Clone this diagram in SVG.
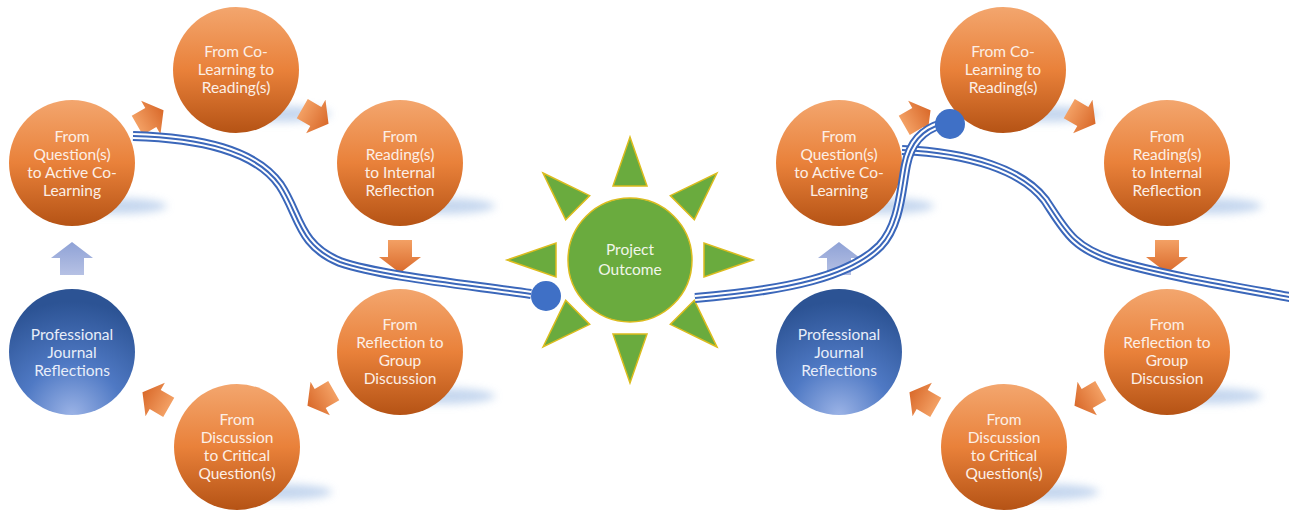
<svg xmlns="http://www.w3.org/2000/svg" xmlns:xlink="http://www.w3.org/1999/xlink" width="1289" height="511" viewBox="0 0 1289 511">
<defs>
<linearGradient id="og" x1="0" y1="0" x2="0" y2="1">
<stop offset="0" stop-color="#f3a66e"/>
<stop offset="0.5" stop-color="#e9813a"/>
<stop offset="1" stop-color="#b55315"/>
</linearGradient>
<radialGradient id="bg" cx="0.5" cy="1" r="0.9">
<stop offset="0" stop-color="#9bb3e6"/>
<stop offset="0.45" stop-color="#4f79c4"/>
<stop offset="1" stop-color="#2c5394"/>
</radialGradient>
<linearGradient id="ag" x1="0" y1="0" x2="1" y2="0">
<stop offset="0" stop-color="#f3a064"/>
<stop offset="1" stop-color="#d9692a"/>
</linearGradient>
<linearGradient id="ug" x1="0" y1="0" x2="1" y2="0">
<stop offset="0" stop-color="#b6c1e4"/>
<stop offset="1" stop-color="#8fa2d6"/>
</linearGradient>
<filter id="blur" x="-50%" y="-100%" width="200%" height="300%"><feGaussianBlur stdDeviation="4"/></filter>
<path id="arr" d="M-16,-12 H1 V-21 L17,0 L1,21 V12 H-16 Z"/>
<path id="tri" d="M0,-123 L17,-74 L-17,-74 Z"/>
<path id="waveL" d="M133,136 C200,138 255,150 280,185 C300,215 298,245 340,262 C380,276 470,285 531,294"/>
<path id="waveR" d="M902,150 C970,153 1022,170 1045,200 C1065,230 1072,247 1112,260 C1160,275 1240,288 1295,298"/>
<path id="waveX" d="M695,298 C790,290 850,276 880,246 C900,225 901,190 906,165 C910,145 920,130 942,124"/>
</defs>
<style>
.sh{fill:#bcd0ec;filter:url(#blur);opacity:0.85}
.on{fill:url(#og)}
.bn{fill:url(#bg)}
.t{font-family:Lato,"Liberation Sans",sans-serif;font-size:15.5px;fill:#fcefe6;text-anchor:middle}
.tb{fill:#e8eef9}
.ar{fill:url(#ag)}
.ua{fill:url(#ug)}
.w1{fill:none;stroke:#3b67ba;stroke-width:10}
.w2{fill:none;stroke:#ffffff;stroke-width:6}
.w3{fill:none;stroke:#3b67ba;stroke-width:2}
.dot{fill:#3f70c6}
.sun{fill:#6aab3e;stroke:#dcbc1e;stroke-width:1.5}
.ts{font-family:Lato,"Liberation Sans",sans-serif;font-size:15.5px;fill:#f1f6ea;text-anchor:middle}
</style>

<rect width="1289" height="511" fill="#ffffff"/>

<g id="shadows">
<ellipse class="sh" cx="112" cy="206" rx="55" ry="8"/>
<ellipse class="sh" cx="276" cy="114" rx="55" ry="8"/>
<ellipse class="sh" cx="440" cy="206" rx="55" ry="8"/>
<ellipse class="sh" cx="440" cy="396" rx="55" ry="8"/>
<ellipse class="sh" cx="277" cy="492" rx="55" ry="8"/>
<ellipse class="sh" cx="879" cy="206" rx="55" ry="8"/>
<ellipse class="sh" cx="1043" cy="114" rx="55" ry="8"/>
<ellipse class="sh" cx="1207" cy="206" rx="55" ry="8"/>
<ellipse class="sh" cx="1207" cy="396" rx="55" ry="8"/>
<ellipse class="sh" cx="1044" cy="492" rx="55" ry="8"/>
</g>

<!-- Left cycle -->
<g id="L-q1"><circle class="on" cx="72" cy="163" r="63"/>
<text class="t"><tspan x="72" y="142">From</tspan><tspan x="72" y="160">Question(s)</tspan><tspan x="72" y="178">to Active Co-</tspan><tspan x="72" y="196">Learning</tspan></text></g>
<g id="L-colearn"><circle class="on" cx="236" cy="70" r="63"/>
<text class="t"><tspan x="236" y="57">From Co-</tspan><tspan x="236" y="75">Learning to</tspan><tspan x="236" y="93">Reading(s)</tspan></text></g>
<g id="L-reading"><circle class="on" cx="400" cy="163" r="63"/>
<text class="t"><tspan x="400" y="142">From</tspan><tspan x="400" y="160">Reading(s)</tspan><tspan x="400" y="178">to Internal</tspan><tspan x="400" y="196">Reflection</tspan></text></g>
<g id="L-reflection"><circle class="on" cx="400" cy="352" r="63"/>
<text class="t"><tspan x="400" y="330">From</tspan><tspan x="400" y="348">Reflection to</tspan><tspan x="400" y="366">Group</tspan><tspan x="400" y="384">Discussion</tspan></text></g>
<g id="L-discussion"><circle class="on" cx="237" cy="447" r="63"/>
<text class="t"><tspan x="237" y="425">From</tspan><tspan x="237" y="443">Discussion</tspan><tspan x="237" y="461">to Critical</tspan><tspan x="237" y="479">Question(s)</tspan></text></g>
<g id="L-journal"><circle class="bn" cx="72" cy="352" r="63"/>
<text class="t tb"><tspan x="72" y="340">Professional</tspan><tspan x="72" y="358">Journal</tspan><tspan x="72" y="376">Reflections</tspan></text></g>

<!-- Right cycle -->
<g id="R-q1"><circle class="on" cx="839" cy="163" r="63"/>
<text class="t"><tspan x="839" y="142">From</tspan><tspan x="839" y="160">Question(s)</tspan><tspan x="839" y="178">to Active Co-</tspan><tspan x="839" y="196">Learning</tspan></text></g>
<g id="R-colearn"><circle class="on" cx="1003" cy="70" r="63"/>
<text class="t"><tspan x="1003" y="57">From Co-</tspan><tspan x="1003" y="75">Learning to</tspan><tspan x="1003" y="93">Reading(s)</tspan></text></g>
<g id="R-reading"><circle class="on" cx="1167" cy="163" r="63"/>
<text class="t"><tspan x="1167" y="142">From</tspan><tspan x="1167" y="160">Reading(s)</tspan><tspan x="1167" y="178">to Internal</tspan><tspan x="1167" y="196">Reflection</tspan></text></g>
<g id="R-reflection"><circle class="on" cx="1167" cy="352" r="63"/>
<text class="t"><tspan x="1167" y="330">From</tspan><tspan x="1167" y="348">Reflection to</tspan><tspan x="1167" y="366">Group</tspan><tspan x="1167" y="384">Discussion</tspan></text></g>
<g id="R-discussion"><circle class="on" cx="1004" cy="447" r="63"/>
<text class="t"><tspan x="1004" y="425">From</tspan><tspan x="1004" y="443">Discussion</tspan><tspan x="1004" y="461">to Critical</tspan><tspan x="1004" y="479">Question(s)</tspan></text></g>
<g id="R-journal"><circle class="bn" cx="839" cy="352" r="63"/>
<text class="t tb"><tspan x="839" y="340">Professional</tspan><tspan x="839" y="358">Journal</tspan><tspan x="839" y="376">Reflections</tspan></text></g>

<!-- Sun -->
<g id="project-outcome">
<g transform="translate(630,260)">
<use xlink:href="#tri" class="sun"/>
<use xlink:href="#tri" class="sun" transform="rotate(45)"/>
<use xlink:href="#tri" class="sun" transform="rotate(90)"/>
<use xlink:href="#tri" class="sun" transform="rotate(135)"/>
<use xlink:href="#tri" class="sun" transform="rotate(180)"/>
<use xlink:href="#tri" class="sun" transform="rotate(225)"/>
<use xlink:href="#tri" class="sun" transform="rotate(270)"/>
<use xlink:href="#tri" class="sun" transform="rotate(315)"/>
</g>
<circle class="sun" cx="630" cy="260" r="62"/>
<text class="ts"><tspan x="630" y="255">Project</tspan><tspan x="630" y="275">Outcome</tspan></text>
</g>

<g id="connectors">
<g id="cycle-arrows">
<use xlink:href="#arr" class="ar" transform="translate(150,118) rotate(-30) scale(0.92)"/>
<use xlink:href="#arr" class="ar" transform="translate(315,116) rotate(30) scale(0.92)"/>
<use xlink:href="#arr" class="ar" transform="translate(400,256) rotate(90)"/>
<use xlink:href="#arr" class="ar" transform="translate(321,398) rotate(150) scale(0.92)"/>
<use xlink:href="#arr" class="ar" transform="translate(156,400) rotate(210) scale(0.92)"/>
<use xlink:href="#arr" class="ua" transform="translate(72,259) rotate(-90)"/>
<use xlink:href="#arr" class="ar" transform="translate(917,118) rotate(-30) scale(0.92)"/>
<use xlink:href="#arr" class="ar" transform="translate(1082,116) rotate(30) scale(0.92)"/>
<use xlink:href="#arr" class="ar" transform="translate(1167,256) rotate(90)"/>
<use xlink:href="#arr" class="ar" transform="translate(1088,398) rotate(150) scale(0.92)"/>
<use xlink:href="#arr" class="ar" transform="translate(923,400) rotate(210) scale(0.92)"/>
<use xlink:href="#arr" class="ua" transform="translate(839,259) rotate(-90)"/>
</g>
<g id="roads">
<use xlink:href="#waveL" class="w1"/><use xlink:href="#waveL" class="w2"/><use xlink:href="#waveL" class="w3"/>
<use xlink:href="#waveR" class="w1"/><use xlink:href="#waveR" class="w2"/><use xlink:href="#waveR" class="w3"/>
<use xlink:href="#waveX" class="w1"/><use xlink:href="#waveX" class="w2"/><use xlink:href="#waveX" class="w3"/>
</g>
<circle class="dot" cx="546" cy="296" r="15"/>
<circle class="dot" cx="950" cy="124" r="15"/>
</g>
</svg>
